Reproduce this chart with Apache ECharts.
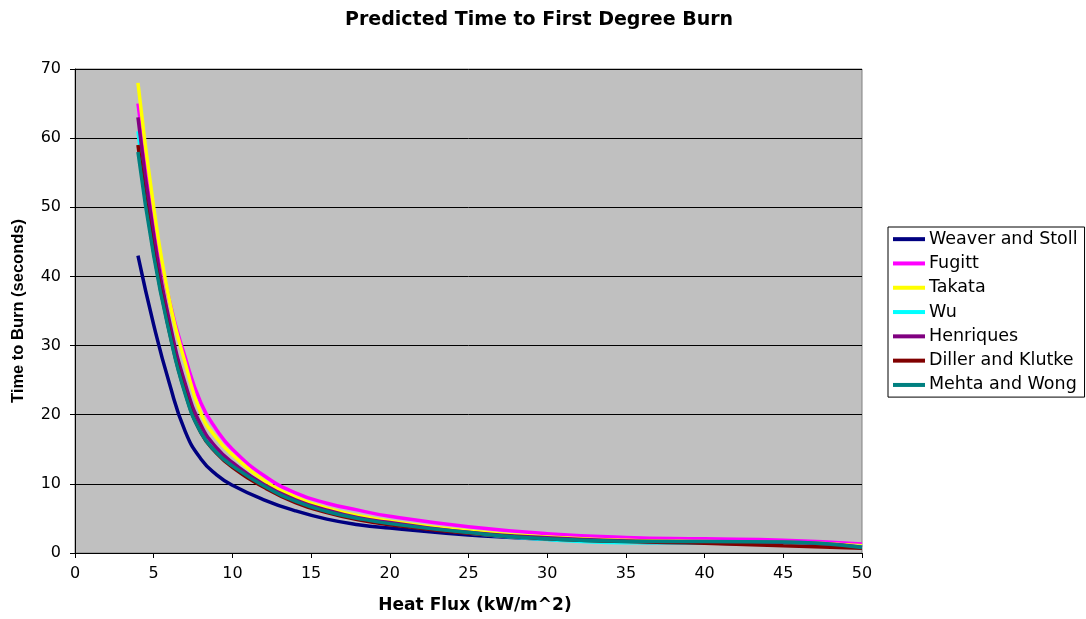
<!DOCTYPE html>
<html>
<head>
<meta charset="utf-8">
<title>Predicted Time to First Degree Burn</title>
<script src="https://cdn.jsdelivr.net/npm/echarts@6/dist/echarts.min.js"></script>
<style>
  html, body { margin: 0; padding: 0; background: #ffffff; }
  #chart { width: 1086px; height: 619px; }
</style>
</head>
<body>
<div id="chart"></div>
<script>
// Heat flux (kW/m^2) at which each model was evaluated
const flux = [4, 5, 6, 7, 8, 9, 10, 12, 14, 16, 18, 20, 25, 30, 35, 40, 45, 50];

// Predicted time to first degree burn (seconds) for each model
const weaverStoll   = [43, 33, 24.5, 17.6, 13.6, 11.3, 9.8, 7.7, 6.1, 4.9, 4.1, 3.6, 2.6, 2.0, 1.6, 1.45, 1.2, 0.9];
const fugitt        = [65, 48.5, 36.5, 28.3, 21.7, 17.8, 15.0, 11.2, 8.7, 7.2, 6.2, 5.3, 3.8, 2.8, 2.25, 2.05, 1.85, 1.3];
const takata        = [68, 50, 36.5, 27.5, 20.2, 16.6, 14.2, 10.5, 8.1, 6.5, 5.4, 4.6, 3.2, 2.3, 1.85, 1.65, 1.55, 1.05];
const wu            = [61, 44.5, 32.5, 23.5, 17.8, 14.6, 12.6, 9.7, 7.5, 6.0, 5.0, 4.2, 2.9, 1.95, 1.5, 1.45, 1.4, 0.9];
const henriques     = [63, 46, 33.5, 24.5, 18.5, 15.2, 13.1, 9.9, 7.7, 6.2, 5.1, 4.4, 3.0, 2.2, 1.75, 1.6, 1.55, 0.85];
const dillerKlutke  = [59, 43.5, 32, 23.2, 17.4, 14.4, 12.4, 9.5, 7.3, 5.85, 4.8, 4.1, 2.85, 2.05, 1.65, 1.4, 1.05, 0.7];
const mehtaWong     = [58, 43, 31.8, 23, 17.4, 14.5, 12.6, 9.7, 7.5, 6.0, 5.0, 4.25, 2.95, 2.05, 1.7, 1.65, 1.6, 0.8];

const seriesNames  = ['Weaver and Stoll', 'Fugitt', 'Takata', 'Wu', 'Henriques', 'Diller and Klutke', 'Mehta and Wong'];
const seriesValues = [weaverStoll, fugitt, takata, wu, henriques, dillerKlutke, mehtaWong];
const seriesColors = ['#000080', '#FF00FF', '#FFFF00', '#00FFFF', '#800080', '#800000', '#008080'];

const xTicks = { min: 0, max: 50, interval: 5 };
const yTicks = { min: 0, max: 70, interval: 10 };

const chart = echarts.init(document.getElementById('chart'));

const series = seriesNames.map((name, i) => ({
  name: name,
  type: 'line',
  data: flux.map((x, j) => [x, seriesValues[i][j]]),
  smooth: 0.5,
  showSymbol: false,
  symbol: 'none',
  lineStyle: { color: seriesColors[i], width: 3.5 },
  itemStyle: { color: seriesColors[i] },
  emphasis: { disabled: true },
  animation: false
}));

chart.setOption({
  animation: false,
  backgroundColor: '#ffffff',
  title: {
    text: 'Predicted Time to First Degree Burn',
    left: 340,
    top: 6,
    textStyle: { fontFamily: 'DejaVu Sans', fontWeight: 'bold', fontSize: 19, color: '#000000' }
  },
  grid: {
    left: 75, right: 224, top: 69, bottom: 66,
    show: true,
    backgroundColor: '#C0C0C0',
    borderColor: '#808080',
    borderWidth: 1
  },
  legend: {
    orient: 'vertical',
    left: 888,
    top: 227,
    data: seriesNames,
    icon: 'rect',
    itemWidth: 32,
    itemHeight: 4,
    itemGap: 6,
    padding: [3, 7, 3, 5],
    borderColor: '#000000',
    borderWidth: 1,
    backgroundColor: '#ffffff',
    selectedMode: false,
    textStyle: { fontFamily: 'DejaVu Sans', fontSize: 17.5, color: '#000000', lineHeight: 18.3, padding: [0, 0, 0, -1] }
  },
  xAxis: {
    type: 'value',
    min: xTicks.min, max: xTicks.max, interval: xTicks.interval,
    name: 'Heat Flux (kW/m^2)',
    nameLocation: 'middle',
    nameGap: 44,
    nameTextStyle: { fontFamily: 'DejaVu Sans', fontWeight: 'bold', fontSize: 17, color: '#000000', padding: [0, 0, 0, 13] },
    axisLine: { show: true, onZero: false, lineStyle: { color: '#000000', width: 1 } },
    axisTick: { show: true, inside: false, length: 5, lineStyle: { color: '#000000' } },
    axisLabel: { margin: 13, fontFamily: 'DejaVu Sans', fontSize: 16, color: '#000000' },
    splitLine: { show: false }
  },
  yAxis: {
    type: 'value',
    min: yTicks.min, max: yTicks.max, interval: yTicks.interval,
    name: 'Time to Burn (seconds)',
    nameLocation: 'middle',
    nameGap: 48,
    nameRotate: 90,
    nameTextStyle: { fontFamily: 'Liberation Sans', fontWeight: 'bold', fontSize: 16.5, color: '#000000' },
    axisLine: { show: true, lineStyle: { color: '#000000', width: 1 } },
    axisTick: { show: true, inside: false, length: 5, lineStyle: { color: '#000000' } },
    axisLabel: { margin: 14, fontFamily: 'DejaVu Sans', fontSize: 16, color: '#000000' },
    splitLine: { show: true, lineStyle: { color: '#000000', width: 1 } }
  },
  series: series
});
</script>
</body>
</html>
